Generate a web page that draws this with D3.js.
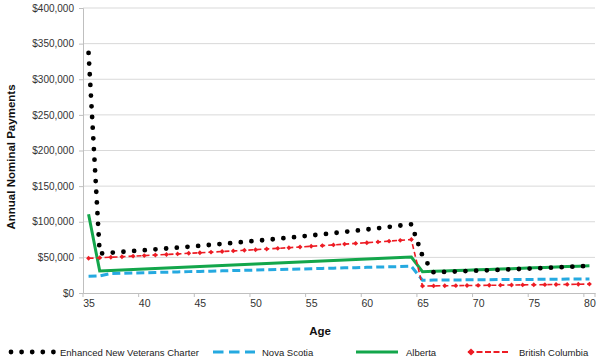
<!DOCTYPE html>
<html><head><meta charset="utf-8">
<script src="https://cdn.jsdelivr.net/npm/d3@7"></script>
<style>body{margin:0;background:#fff}svg{display:block;font-family:"Liberation Sans",Arial,sans-serif}</style>
</head><body><svg id="c" width="600" height="360"></svg>
<script>
const ages = [35,36,37,38,39,40,41,42,43,44,45,46,47,48,49,50,51,52,53,54,55,56,57,58,59,60,61,62,63,64,65,66,67,68,69,70,71,72,73,74,75,76,77,78,79,80];
const xTickLabels = [35,40,45,50,55,60,65,70,75,80];
const yTickValues = [0,50000,100000,150000,200000,250000,300000,350000,400000];
const seriesNames = ["Enhanced New Veterans Charter","Nova Scotia","Alberta","British Columbia"];
const envc = [337000,55500,56600,57700,58900,60100,61300,62500,63700,65000,66300,67600,69000,70300,71800,73200,74600,76100,77700,79200,80800,82400,84100,85800,87500,89200,91000,92800,94700,96500,52000,29000,29600,30200,30800,31400,32000,32600,33200,33900,34500,35200,35900,36600,37300,38000];
const novaScotia = [23500,24000,27300,27700,28100,28400,28800,29200,29600,30000,30300,30700,31100,31500,31800,32200,32600,33000,33400,33700,34100,34500,34900,35300,35600,36000,36400,36800,37100,37500,18000,18100,18200,18300,18500,18600,18700,18800,18900,19000,19100,19200,19400,19500,19600,19700];
const alberta = [110500,31000,31700,32400,33100,33800,34500,35200,35900,36600,37300,38000,38700,39400,40100,40800,41500,42200,42900,43600,44300,45000,45700,46400,47100,47800,48500,49200,49900,50500,30000,30500,31000,31500,32100,32600,33100,33700,34200,34800,35300,35900,36500,37100,37700,38300];
const britishColumbia = [48700,49400,50200,50900,51700,52500,53300,54100,54900,55700,56500,57300,58200,59100,59900,60800,61800,62700,63600,64600,65600,66500,67500,68600,69600,70600,71700,72800,73900,75000,9800,10000,10200,10300,10500,10700,10800,11000,11200,11400,11600,11700,11900,12100,12300,12500];

const svg = d3.select("#c");
const x = d3.scaleLinear().domain([34.5,80.5]).range([83,595]);
const y = d3.scaleLinear().domain([0,400000]).range([293,8]);
const fmt = v => "$" + d3.format(",")(v);

// gridlines
svg.append("g").selectAll("line").data(yTickValues.filter(v=>v>0)).join("line")
  .attr("x1",83).attr("x2",595).attr("y1",d=>y(d)).attr("y2",d=>y(d))
  .attr("stroke","#d9d9d9").attr("stroke-width",1);

// y axis
const ya = svg.append("g").attr("transform","translate(83,0)")
  .call(d3.axisLeft(y).tickValues(yTickValues).tickFormat(fmt).tickSize(4).tickPadding(5));
ya.select(".domain").attr("stroke","#bfbfbf");
ya.selectAll(".tick line").attr("stroke","#bfbfbf");
ya.selectAll("text").attr("font-size","10px").attr("fill","#333").attr("font-family","Liberation Sans, Arial, sans-serif");

// x axis
const xa = svg.append("g").attr("transform","translate(0,293)")
  .call(d3.axisBottom(x).tickValues(xTickLabels).tickFormat(d3.format("d")).tickSize(0).tickPadding(7));
xa.select(".domain").attr("stroke","#bfbfbf");
xa.selectAll("text").attr("font-size","10.5px").attr("fill","#333").attr("font-family","Liberation Sans, Arial, sans-serif");
// category boundary tick marks
svg.append("g").selectAll("line").data(xTickLabels.map(v=>v-0.5).concat([80.5])).join("line")
  .attr("x1",d=>x(d)).attr("x2",d=>x(d)).attr("y1",293).attr("y2",297).attr("stroke","#bfbfbf");

const line = data => d3.line().x((d,i)=>x(ages[i])).y(d=>y(d))(data);

// series
svg.append("path").attr("d",line(alberta)).attr("fill","none").attr("stroke","#13a64b").attr("stroke-width",3);
svg.append("path").attr("d",line(novaScotia)).attr("fill","none").attr("stroke","#25a9e0").attr("stroke-width",3).attr("stroke-dasharray","8,4");
svg.append("path").attr("d",line(britishColumbia)).attr("fill","none").attr("stroke","#ed1c24").attr("stroke-width",1.6).attr("stroke-dasharray","5,3");
svg.append("g").selectAll("path").data(britishColumbia).join("path")
  .attr("transform",(d,i)=>`translate(${x(ages[i])},${y(d)}) rotate(45)`)
  .attr("d",d3.symbol(d3.symbolSquare,12)).attr("fill","#ed1c24");
svg.append("path").attr("d",line(envc)).attr("fill","none").attr("stroke","#000").attr("stroke-width",4.8)
  .attr("stroke-linecap","round").attr("stroke-dasharray","0,10.7");

// axis titles
svg.append("text").attr("x",320).attr("y",335).attr("text-anchor","middle").attr("font-size","11.5px").attr("font-weight","bold").attr("fill","#111").text("Age");
svg.append("text").attr("transform","translate(15,157) rotate(-90)").attr("text-anchor","middle").attr("font-size","11.5px").attr("font-weight","bold").attr("fill","#111").text("Annual Nominal Payments");

// legend
const ly = 352;
const lg = svg.append("g").attr("font-size","9.5px").attr("fill","#222");
lg.append("line").attr("x1",11).attr("x2",54).attr("y1",ly).attr("y2",ly).attr("stroke","#000").attr("stroke-width",4.8).attr("stroke-linecap","round").attr("stroke-dasharray","0,10.6");
lg.append("text").attr("x",60).attr("y",ly+3.5).text(seriesNames[0]);
lg.append("line").attr("x1",213).attr("x2",255).attr("y1",ly).attr("y2",ly).attr("stroke","#25a9e0").attr("stroke-width",3).attr("stroke-dasharray","10.5,5.5");
lg.append("text").attr("x",262).attr("y",ly+3.5).text(seriesNames[1]);
lg.append("line").attr("x1",356).attr("x2",398).attr("y1",ly).attr("y2",ly).attr("stroke","#13a64b").attr("stroke-width",3);
lg.append("text").attr("x",406).attr("y",ly+3.5).text(seriesNames[2]);
lg.append("line").attr("x1",468).attr("x2",510).attr("y1",ly).attr("y2",ly).attr("stroke","#ed1c24").attr("stroke-width",2).attr("stroke-dasharray","6,2.5");
lg.append("path").attr("transform",`translate(471,${ly}) rotate(45)`).attr("d",d3.symbol(d3.symbolSquare,26)).attr("fill","#ed1c24");
lg.append("text").attr("x",519).attr("y",ly+3.5).text(seriesNames[3]);
</script></body></html>
